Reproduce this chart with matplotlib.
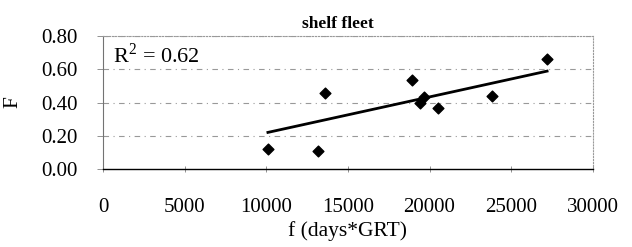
import numpy as np
import matplotlib; matplotlib.use("Agg")
import matplotlib.pyplot as plt

# effort f (days*GRT) vs fishing mortality F, shelf fleet
effort = [10100, 13150, 13620, 18900, 19400, 19690, 20490, 23820, 27200]
F_vals = [0.118, 0.110, 0.455, 0.533, 0.395, 0.434, 0.366, 0.440, 0.664]
# trend line as drawn in the source chart (end points)
trend_x = [10100, 27200]
trend_y = [0.220, 0.589]
x_ticks = [0, 5000, 10000, 15000, 20000, 25000, 30000]
y_ticks = [0.0, 0.2, 0.4, 0.6, 0.8]
r2_label = "R$^2$ = 0.62"

plt.rcParams["font.family"] = ["Liberation Serif", "DejaVu Serif"]
plt.rcParams["mathtext.fontset"] = "custom"
plt.rcParams["mathtext.rm"] = "Liberation Serif"

fig = plt.figure(figsize=(6.32, 2.47), dpi=100)
ax = fig.add_axes([0.163, 0.316, 0.775, 0.538])

ax.plot(trend_x, trend_y, color="black", lw=2.0, zorder=3)
ax.scatter(effort, F_vals, marker="D", s=30, color="black", zorder=4)

for v in y_ticks[1:]:
    ax.axhline(v, color="0.6", lw=0.8, ls=(0, (5, 4, 1, 4)), zorder=1)

ax.set_xlim(0, 30000); ax.set_ylim(0, 0.8)
ax.set_xticks(x_ticks); ax.set_yticks(y_ticks)
ax.set_yticklabels([f"{v:.2f}" for v in y_ticks])
ax.tick_params(axis="both", labelsize=15, colors="black", length=4, width=0.6)
ax.tick_params(axis="x", direction="inout", pad=19, color="0.5")
ax.tick_params(axis="y", direction="out", pad=14, color="0.5")

for s in ["top", "right"]:
    ax.spines[s].set_color("0.6"); ax.spines[s].set_linestyle(":"); ax.spines[s].set_linewidth(0.8)
ax.spines["left"].set_color("0.45"); ax.spines["left"].set_linewidth(0.8)
ax.spines["bottom"].set_color("black"); ax.spines["bottom"].set_linewidth(1.0)

ax.set_title("shelf fleet", fontsize=12.5, fontweight="bold", pad=6, x=0.48)
ax.set_xlabel("f (days*GRT)", fontsize=15.5, labelpad=3)
ax.set_ylabel("F", fontsize=15.5, labelpad=14, rotation=90)
ax.text(600, 0.685, r2_label, fontsize=16, ha="left", va="center")

fig.savefig("out.png", dpi=100)
